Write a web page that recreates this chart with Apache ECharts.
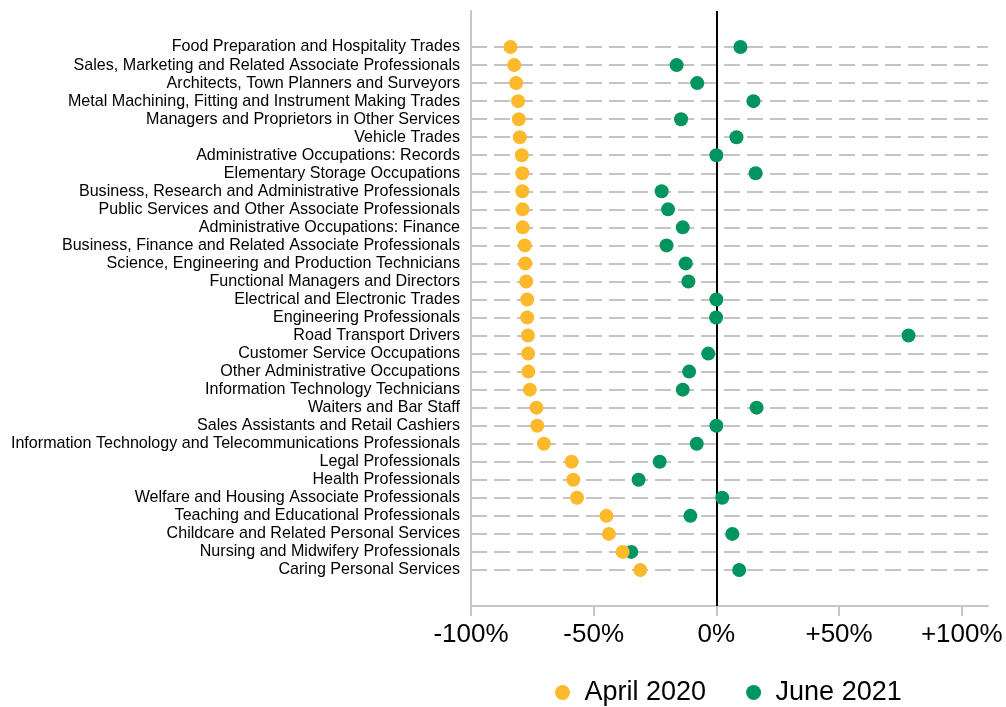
<!DOCTYPE html>
<html>
<head>
<meta charset="utf-8">
<script src="https://cdn.jsdelivr.net/npm/echarts@6/dist/echarts.min.js"></script>
<style>
html,body{margin:0;padding:0;background:#fff;}
#main{width:1006px;height:707px;}
</style>
</head>
<body>
<div id="main"></div>
<script>
const categories = [
  "Food Preparation and Hospitality Trades",
  "Sales, Marketing and Related Associate Professionals",
  "Architects, Town Planners and Surveyors",
  "Metal Machining, Fitting and Instrument Making Trades",
  "Managers and Proprietors in Other Services",
  "Vehicle Trades",
  "Administrative Occupations: Records",
  "Elementary Storage Occupations",
  "Business, Research and Administrative Professionals",
  "Public Services and Other Associate Professionals",
  "Administrative Occupations: Finance",
  "Business, Finance and Related Associate Professionals",
  "Science, Engineering and Production Technicians",
  "Functional Managers and Directors",
  "Electrical and Electronic Trades",
  "Engineering Professionals",
  "Road Transport Drivers",
  "Customer Service Occupations",
  "Other Administrative Occupations",
  "Information Technology Technicians",
  "Waiters and Bar Staff",
  "Sales Assistants and Retail Cashiers",
  "Information Technology and Telecommunications Professionals",
  "Legal Professionals",
  "Health Professionals",
  "Welfare and Housing Associate Professionals",
  "Teaching and Educational Professionals",
  "Childcare and Related Personal Services",
  "Nursing and Midwifery Professionals",
  "Caring Personal Services"
];
const april2020 = [-0.839,-0.824,-0.816,-0.808,-0.805,-0.801,-0.793,-0.791,-0.791,-0.790,-0.789,-0.781,-0.779,-0.775,-0.771,-0.771,-0.768,-0.767,-0.766,-0.760,-0.733,-0.730,-0.703,-0.590,-0.583,-0.568,-0.448,-0.438,-0.382,-0.310];
const june2021 = [0.098,-0.162,-0.078,0.151,-0.144,0.082,0.000,0.160,-0.223,-0.197,-0.137,-0.203,-0.125,-0.114,0.000,-0.001,0.783,-0.033,-0.111,-0.137,0.164,0.000,-0.080,-0.231,-0.317,0.024,-0.106,0.065,-0.347,0.093];
const xTicks = [-1, -0.5, 0, 0.5, 1];
const seriesNames = ["April 2020", "June 2021"];

const PAD = 2;
const yCats = [' ', '  '].concat(categories, ['   ', '    ']);
const gridColors = yCats.map((c, i) => (i < PAD || i >= PAD + categories.length) ? 'rgba(0,0,0,0)' : '#c4c4c4');
const FONT = "'Liberation Sans', Arial, sans-serif";
const ORANGE = '#fdb92c';
const GREEN = '#00945f';

const chart = echarts.init(document.getElementById('main'), null, {renderer: 'canvas'});
chart.setOption({
  animation: false,
  backgroundColor: '#fff',
  textStyle: {fontFamily: FONT},
  grid: {left: 471, right: 18, top: 11, bottom: 101, containLabel: false},
  xAxis: {
    type: 'value', min: -1, max: 1.107, interval: 0.5,
    axisLine: {show: true, onZero: false, lineStyle: {color: '#c6c6c6', width: 2}},
    axisTick: {show: true, length: 10, customValues: xTicks, lineStyle: {color: '#c6c6c6', width: 2}},
    axisLabel: {
      customValues: xTicks, margin: 16, fontSize: 26, color: '#000', fontFamily: FONT,
      formatter: v => (v > 0 ? '+' : '') + Math.round(v * 100) + '%'
    },
    splitLine: {show: false}
  },
  yAxis: {
    type: 'category', inverse: true, boundaryGap: false, data: yCats,
    axisLine: {show: true, onZero: false, lineStyle: {color: '#c6c6c6', width: 2}},
    axisTick: {show: false},
    axisLabel: {interval: 0, margin: 11, fontSize: 16.1, color: '#000', fontFamily: FONT},
    splitLine: {show: true, interval: 0, lineStyle: {color: gridColors, width: 2, type: [16, 7]}}
  },
  legend: {
    data: seriesNames, left: 550, top: 674, icon: 'circle',
    itemWidth: 34, itemHeight: 15, itemGap: 40,
    textStyle: {fontSize: 27, color: '#000', fontFamily: FONT}
  },
  series: [
    {
      name: seriesNames[1], type: 'scatter', z: 3, symbolSize: 14,
      itemStyle: {color: GREEN, opacity: 1},
      data: june2021.map((v, i) => [v, i + PAD]),
      markLine: {
        z: 1, silent: true, symbol: 'none', label: {show: false},
        lineStyle: {color: '#000', width: 2, type: 'solid'},
        emphasis: {disabled: true},
        data: [{xAxis: 0}]
      }
    },
    {
      name: seriesNames[0], type: 'scatter', z: 4, symbolSize: 14,
      itemStyle: {color: ORANGE, opacity: 1},
      data: april2020.map((v, i) => [v, i + PAD])
    }
  ]
});
</script>
</body>
</html>
